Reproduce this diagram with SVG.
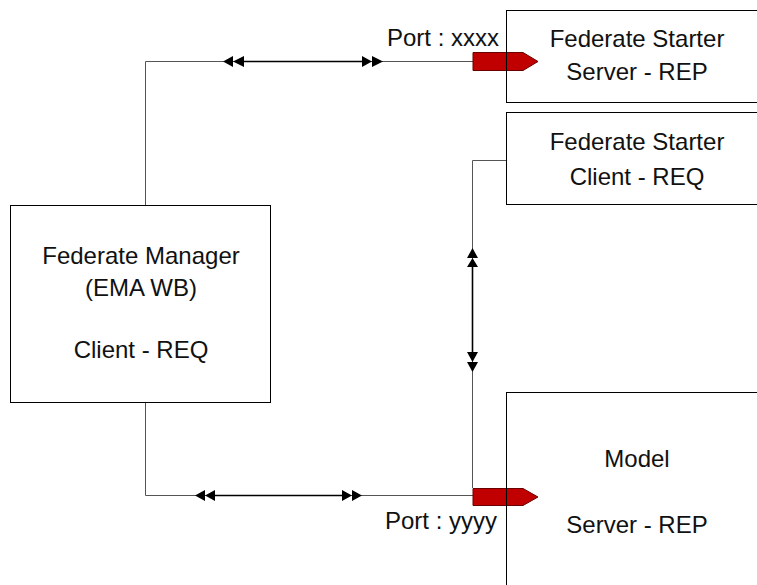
<svg xmlns="http://www.w3.org/2000/svg" width="757" height="585" viewBox="0 0 757 585">
<style>
.box{fill:none;stroke:#000;stroke-width:1}
.t{font-family:"Liberation Sans",Arial,sans-serif;font-size:24px;fill:#111;text-anchor:middle}
.p{font-family:"Liberation Sans",Arial,sans-serif;font-size:24px;fill:#111}
.ln{fill:none;stroke:#555;stroke-width:1}
.mid{fill:none;stroke:#000;stroke-width:1.6}
.ah{fill:#000}
.port{fill:#C00000;stroke:#6b0000;stroke-width:1}
</style>
<rect width="757" height="585" fill="#fff"/>
<g id="connectors">
  <path class="ln" d="M145.5,205 V61.5 H473"/>
  <path class="mid" d="M240,61.5 H366"/>
  <polygon class="ah" points="223,61.5 233,56 233,67"/>
  <polygon class="ah" points="233,61.5 244,56 244,67"/>
  <polygon class="ah" points="372,61.5 362,56 362,67"/>
  <polygon class="ah" points="383,61.5 372,56 372,67"/>
  <path class="ln" d="M145.5,402 V495.5 H473"/>
  <path class="mid" d="M212,495.5 H346"/>
  <polygon class="ah" points="195,495.5 205,490 205,501"/>
  <polygon class="ah" points="205,495.5 215,490 215,501"/>
  <polygon class="ah" points="352,495.5 342,490 342,501"/>
  <polygon class="ah" points="362,495.5 352,490 352,501"/>
  <path class="ln" d="M507,160.5 H472.5 V488"/>
  <path class="mid" d="M472.5,264 V356"/>
  <polygon class="ah" points="472.5,248 467,258 478,258"/>
  <polygon class="ah" points="472.5,258 467,267 478,267"/>
  <polygon class="ah" points="472.5,362 467,352 478,352"/>
  <polygon class="ah" points="472.5,372 467,362 478,362"/>
</g>
<g id="fs-server">
  <polygon class="port" points="473,52.5 523,52.5 538,61.5 523,70.5 473,70.5"/>
  <rect class="box" x="506.5" y="10.5" width="270" height="92"/>
  <text class="t" x="637" y="47">Federate Starter</text>
  <text class="t" x="637" y="80">Server - REP</text>
  <text class="p" x="387" y="46">Port : xxxx</text>
</g>
<g id="fs-client">
  <rect class="box" x="506.5" y="112.5" width="270" height="92"/>
  <text class="t" x="637" y="150">Federate Starter</text>
  <text class="t" x="637" y="185">Client - REQ</text>
</g>
<g id="manager">
  <rect class="box" x="10.5" y="205.5" width="260" height="197"/>
  <text class="t" x="141" y="264">Federate Manager</text>
  <text class="t" x="141" y="296">(EMA WB)</text>
  <text class="t" x="141" y="358">Client - REQ</text>
</g>
<g id="model">
  <polygon class="port" points="473,488.5 523,488.5 538,497 523,505.5 473,505.5"/>
  <rect class="box" x="506.5" y="392.5" width="270" height="220"/>
  <text class="t" x="637" y="467">Model</text>
  <text class="t" x="637" y="533">Server - REP</text>
  <text class="p" x="385" y="529">Port : yyyy</text>
</g>
</svg>
